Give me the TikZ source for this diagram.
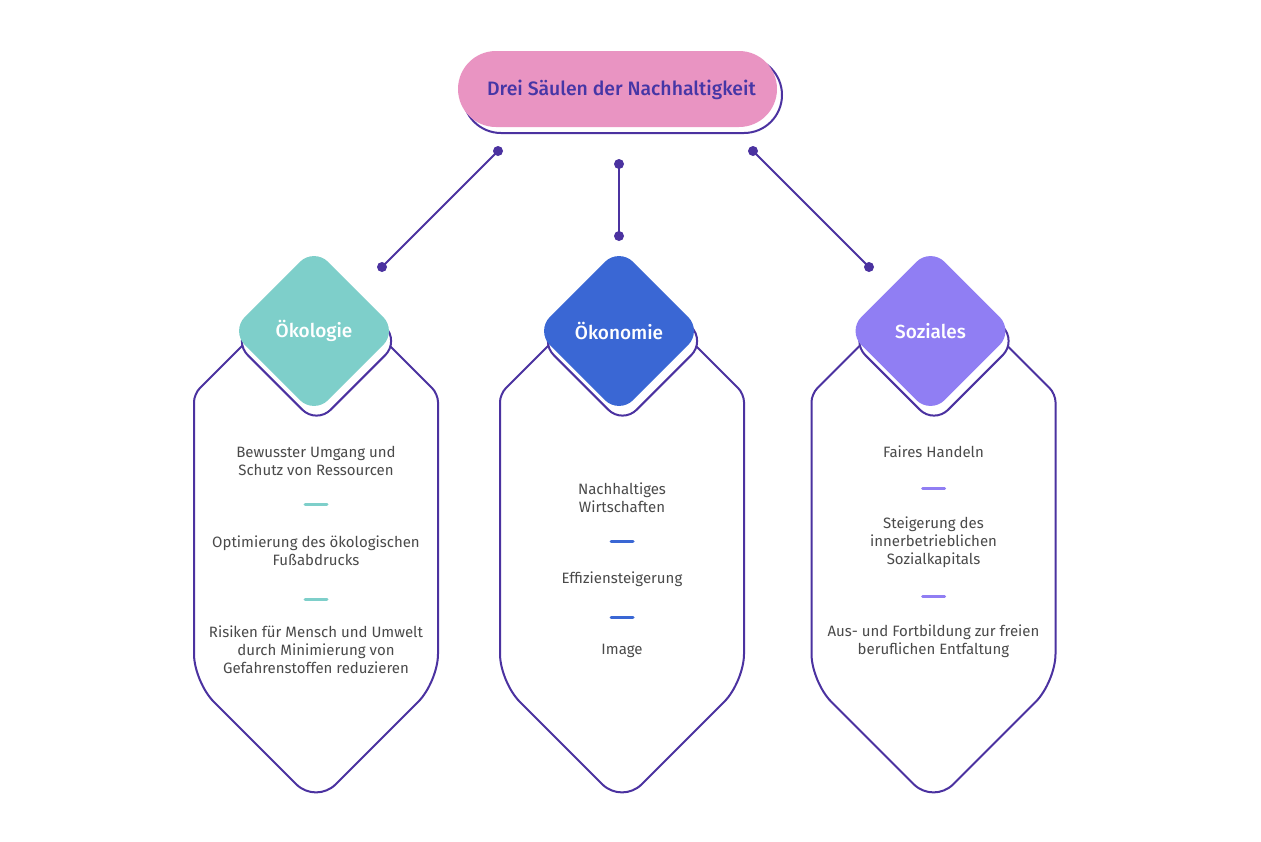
\documentclass[tikz,border=0pt]{standalone}
\usepackage{fontspec}
\setmainfont{Fira Sans}
\newfontfamily\medfont{Fira Sans Medium}
\usetikzlibrary{shapes.geometric}
\definecolor{lineC}{HTML}{4B32A0}
\definecolor{pinkC}{HTML}{E994C2}
\definecolor{tealC}{HTML}{7ECFCA}
\definecolor{blueC}{HTML}{3A67D4}
\definecolor{violetC}{HTML}{907EF3}
\definecolor{titleC}{HTML}{4636A6}
\definecolor{txtC}{HTML}{4A4A4A}
\begin{document}
\begin{tikzpicture}[x=1pt,y=-1pt,
  pill/.style={rectangle, rounded corners=38pt, minimum width=319pt, minimum height=76pt, inner sep=0pt},
  dia/.style={diamond, aspect=1, rounded corners=20pt, minimum width=166.6pt, minimum height=166.6pt, inner sep=0pt},
  diaout/.style={dia, draw=lineC, fill=white, line width=2pt},
  dialabel/.style={text=white, font=\medfont\fontsize{19}{22}\selectfont},
  hexbox/.style={draw=lineC, fill=white, line width=2pt},
  conn/.style={draw=lineC, line width=2pt},
  dot/.style={fill=lineC},
  sep/.style={line width=3pt, line cap=round},
  body/.style={align=center, text=txtC, font=\fontsize{15}{18}\selectfont, inner sep=0pt},
  titletext/.style={text=titleC, font=\medfont\fontsize{19.4}{22}\selectfont, inner sep=0pt}
]
\useasboundingbox (0,0) rectangle (1261,841);
\fill[white] (0,0) rectangle (1261,841);

% title pill
\node[pill, draw=lineC, fill=white, line width=2pt] (pillout) at (622.5,95) {};
\node[pill, fill=pinkC] (pill) at (617.5,89) {};
\node[titletext] (title) at (621.5,90) {Drei Säulen der Nachhaltigkeit};

% connectors
\coordinate (c1a) at (498,151); \coordinate (c1b) at (382,267);
\coordinate (c2a) at (619,164); \coordinate (c2b) at (619,236);
\coordinate (c3a) at (753,151); \coordinate (c3b) at (869,267);
\draw[conn] (c1a) -- (c1b);
\draw[conn] (c2a) -- (c2b);
\draw[conn] (c3a) -- (c3b);
\foreach \p in {c1a,c1b,c2a,c2b,c3a,c3b} \fill[dot] (\p) circle (5pt);

% hexagon boxes
\foreach \cx in {316,622,933.5} {
  \begin{scope}[xshift=\cx pt]
    \draw[hexbox] (-122,540) [rounded corners=8pt] -- (-122,394) -- (0,272) -- (122,394) -- (122,540)
      [rounded corners=28pt] -- (122,682) -- (0,804) -- (-122,682) -- cycle;
  \end{scope}
}

% diamonds
\node[diaout] (o1) at (316.5,341) {};
\node[diaout] (o2) at (622.5,341) {};
\node[diaout] (o3) at (934,341) {};
\node[dia, fill=tealC, dialabel] (d1) at (314,331) {Ökologie};
\node[dia, fill=blueC, dialabel] (d2) at (619,331) {Ökonomie};
\node[dia, fill=violetC, dialabel] (d3) at (930.5,331) {Soziales};

% column 1
\node[body] (t11) at (316,461) {Bewusster Umgang und\\Schutz von Ressourcen};
\draw[sep, tealC] (305,504) -- (327,504);
\node[body] (t12) at (316,551) {Optimierung des ökologischen\\Fußabdrucks};
\draw[sep, tealC] (305,599) -- (327,599);
\node[body] (t13) at (316,650) {Risiken für Mensch und Umwelt\\durch Minimierung von\\Gefahrenstoffen reduzieren};

% column 2
\node[body] (t21) at (622,498) {Nachhaltiges\\Wirtschaften};
\draw[sep, blueC] (611,541) -- (633,541);
\node[body] (t22) at (622,579) {Effiziensteigerung};
\draw[sep, blueC] (611,617) -- (633,617);
\node[body] (t23) at (622,651) {Image};

% column 3
\node[body] (t31) at (933.5,452) {Faires Handeln};
\draw[sep, violetC] (922.5,488) -- (944.5,488);
\node[body] (t32) at (933.5,542) {Steigerung des\\innerbetrieblichen\\Sozialkapitals};
\draw[sep, violetC] (922.5,596) -- (944.5,596);
\node[body] (t33) at (933.5,641) {Aus- und Fortbildung zur freien\\beruflichen Entfaltung};
\end{tikzpicture}
\end{document}
